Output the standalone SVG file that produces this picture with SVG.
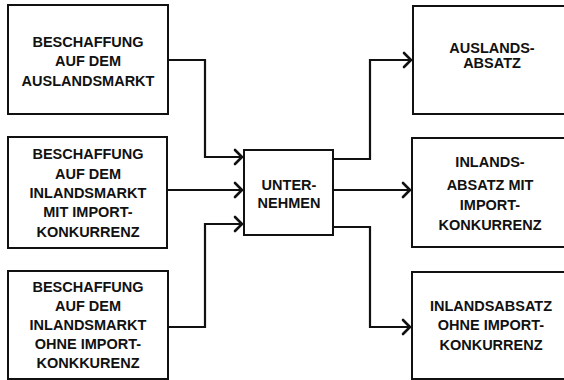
<svg xmlns="http://www.w3.org/2000/svg" width="564" height="380" viewBox="0 0 564 380">
  <style>
    .box { fill: #fff; stroke: #111; stroke-width: 2; }
    .lbl { font-family: "Liberation Sans", Arial, sans-serif; font-weight: bold; font-size: 14.5px; fill: #111; text-anchor: middle; }
    .wire { fill: none; stroke: #111; stroke-width: 2.2; stroke-linejoin: miter; }
    .head { fill: none; stroke: #111; stroke-width: 2.6; stroke-linecap: round; stroke-linejoin: miter; }
  </style>
  <rect width="564" height="380" fill="#fff"/>

  <!-- Sources -->
  <g id="beschaffung-ausland">
    <rect class="box" x="8" y="5" width="160" height="109"/>
    <text class="lbl" x="88" y="47">BESCHAFFUNG</text>
    <text class="lbl" x="88" y="66">AUF DEM</text>
    <text class="lbl" x="88" y="86">AUSLANDSMARKT</text>
  </g>
  <g id="beschaffung-inland-mit">
    <rect class="box" x="8" y="137" width="159" height="111"/>
    <text class="lbl" x="88" y="159">BESCHAFFUNG</text>
    <text class="lbl" x="88" y="179">AUF DEM</text>
    <text class="lbl" x="88" y="198">INLANDSMARKT</text>
    <text class="lbl" x="88" y="217">MIT IMPORT-</text>
    <text class="lbl" x="88" y="237">KONKURRENZ</text>
  </g>
  <g id="beschaffung-inland-ohne">
    <rect class="box" x="8" y="271" width="160" height="108"/>
    <text class="lbl" x="88" y="292">BESCHAFFUNG</text>
    <text class="lbl" x="88" y="311">AUF DEM</text>
    <text class="lbl" x="88" y="330">INLANDSMARKT</text>
    <text class="lbl" x="88" y="349">OHNE IMPORT-</text>
    <text class="lbl" x="88" y="368">KONKKURENZ</text>
  </g>

  <!-- Company -->
  <g id="unternehmen">
    <rect class="box" x="244" y="150" width="89" height="85"/>
    <text class="lbl" x="289" y="190">UNTER-</text>
    <text class="lbl" x="289" y="208">NEHMEN</text>
  </g>

  <!-- Sales -->
  <g id="auslandsabsatz">
    <rect class="box" x="413" y="6" width="160" height="108"/>
    <text class="lbl" x="492" y="53">AUSLANDS-</text>
    <text class="lbl" x="492" y="68">ABSATZ</text>
  </g>
  <g id="inlandsabsatz-mit">
    <rect class="box" x="412" y="138" width="160" height="109"/>
    <text class="lbl" x="490" y="167">INLANDS-</text>
    <text class="lbl" x="490" y="190">ABSATZ MIT</text>
    <text class="lbl" x="490" y="210">IMPORT-</text>
    <text class="lbl" x="490" y="230">KONKURRENZ</text>
  </g>
  <g id="inlandsabsatz-ohne">
    <rect class="box" x="412" y="272" width="160" height="107"/>
    <text class="lbl" x="491" y="311">INLANDSABSATZ</text>
    <text class="lbl" x="491" y="330">OHNE IMPORT-</text>
    <text class="lbl" x="491" y="350">KONKURRENZ</text>
  </g>

  <!-- Connectors -->
  <g id="connectors">
    <polyline class="wire" points="168,60 205,60 205,157 242,157"/>
    <polyline class="head" points="235,150 242,157 235,164"/>
    <polyline class="wire" points="167,190 242,190"/>
    <polyline class="head" points="235,183 242,190 235,197"/>
    <polyline class="wire" points="168,327 205,327 205,224 242,224"/>
    <polyline class="head" points="235,217 242,224 235,231"/>

    <polyline class="wire" points="333,159 370,159 370,60 411,60"/>
    <polyline class="head" points="404,53 411,60 404,67"/>
    <polyline class="wire" points="333,190 410,190"/>
    <polyline class="head" points="403,183 410,190 403,197"/>
    <polyline class="wire" points="333,227 370,227 370,327 410,327"/>
    <polyline class="head" points="403,320 410,327 403,334"/>
  </g>
</svg>
